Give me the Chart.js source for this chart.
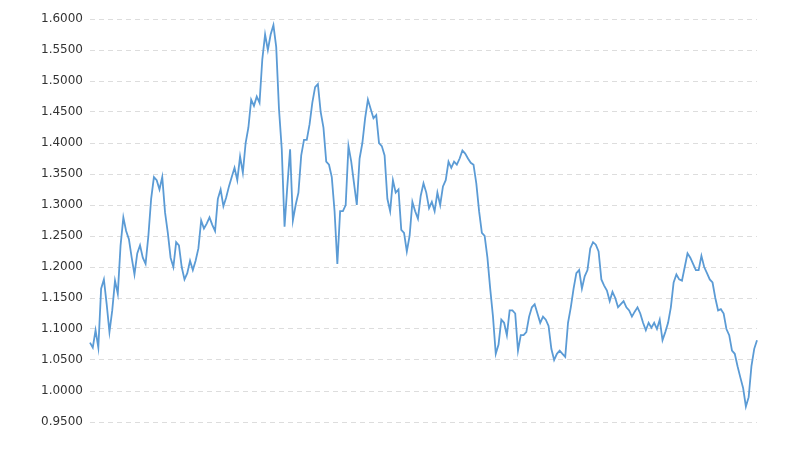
<!DOCTYPE html>
<html>
<head>
<meta charset="utf-8">
<script src="https://cdn.jsdelivr.net/npm/chart.js@4/dist/chart.umd.min.js"></script>
<style>
  html, body { margin: 0; padding: 0; background: #fff; }
  #wrap { width: 800px; height: 450px; }
</style>
</head>
<body>
<div id="wrap"><canvas id="chart"></canvas></div>
<script>
// monthly, Jan 2003 .. Jan 2023
const startYear = 2003;
const rates = [
  1.078, 1.070, 1.098, 1.070, 1.165, 1.180, 1.140, 1.095, 1.130, 1.178, 1.157, 1.235,
  1.280, 1.258, 1.245, 1.215, 1.188, 1.222, 1.235, 1.215, 1.205, 1.250, 1.310, 1.345,
  1.340, 1.325, 1.345, 1.288, 1.255, 1.215, 1.200, 1.240, 1.235, 1.200, 1.180, 1.190,
  1.210, 1.195, 1.210, 1.230, 1.275, 1.262, 1.270, 1.280, 1.268, 1.258, 1.310, 1.325,
  1.298, 1.312, 1.330, 1.345, 1.360, 1.340, 1.378, 1.352, 1.400, 1.425, 1.470, 1.460,
  1.475, 1.465, 1.535, 1.575, 1.550, 1.575, 1.590, 1.555, 1.455, 1.390, 1.265, 1.330,
  1.390, 1.275, 1.300, 1.320, 1.380, 1.405, 1.405, 1.430, 1.465, 1.490, 1.495, 1.450,
  1.425, 1.370, 1.365, 1.345, 1.290, 1.205, 1.290, 1.290, 1.300, 1.395, 1.370, 1.335,
  1.300, 1.375, 1.400, 1.440, 1.470, 1.455, 1.440, 1.445, 1.400, 1.395, 1.380, 1.310,
  1.290, 1.340, 1.320, 1.325, 1.260, 1.255, 1.225, 1.250, 1.305, 1.290, 1.278, 1.315,
  1.335, 1.320, 1.295, 1.305, 1.290, 1.320, 1.300, 1.330, 1.340, 1.370, 1.360, 1.370,
  1.365, 1.375, 1.388, 1.383, 1.375, 1.368, 1.365, 1.335, 1.290, 1.255, 1.250, 1.215,
  1.165, 1.120, 1.060, 1.075, 1.115, 1.110, 1.090, 1.130, 1.130, 1.125, 1.065, 1.090,
  1.090, 1.095, 1.120, 1.135, 1.140, 1.125, 1.110, 1.120, 1.115, 1.105, 1.068, 1.050,
  1.060, 1.065, 1.060, 1.055, 1.110, 1.135, 1.165, 1.190, 1.195, 1.165, 1.185, 1.195,
  1.230, 1.240, 1.236, 1.225, 1.180, 1.170, 1.162, 1.145, 1.160, 1.150, 1.135, 1.140,
  1.145, 1.135, 1.130, 1.120, 1.128, 1.135, 1.125, 1.110, 1.098, 1.110, 1.102, 1.110,
  1.100, 1.115, 1.082, 1.095, 1.110, 1.135, 1.175, 1.188, 1.180, 1.178, 1.200, 1.222,
  1.215, 1.205, 1.195, 1.195, 1.218, 1.200, 1.190, 1.180, 1.175, 1.150, 1.130, 1.132,
  1.125, 1.100, 1.090, 1.065, 1.060, 1.040, 1.022, 1.005, 0.975, 0.990, 1.040, 1.068,
  1.082
];
const months = rates.map((v, i) => {
  const y = startYear + Math.floor(i / 12);
  const m = (i % 12) + 1;
  return y + '-' + String(m).padStart(2, '0');
});
const yMin = 0.95;
const yMax = 1.6;
const yStep = 0.05;

const ctx = document.getElementById('chart').getContext('2d');
new Chart(ctx, {
  type: 'line',
  data: {
    labels: months,
    datasets: [{
      data: rates,
      borderColor: '#5b9bd5',
      borderWidth: 1.8,
      pointRadius: 0,
      tension: 0,
      fill: false
    }]
  },
  options: {
    responsive: true,
    maintainAspectRatio: false,
    animation: false,
    layout: { padding: { top: 19, right: 43, bottom: 28, left: 0 } },
    plugins: {
      legend: { display: false },
      tooltip: { enabled: false }
    },
    scales: {
      x: { display: false },
      y: {
        min: yMin,
        max: yMax,
        afterFit: (scale) => { scale.width = 90; },
        ticks: {
          stepSize: yStep,
          padding: 7,
          color: '#333',
          font: { family: 'DejaVu Sans', size: 12 },
          callback: (v) => v.toFixed(4)
        },
        grid: { color: '#dddddd', drawTicks: false },
        border: { display: false, dash: [5, 4] }
      }
    }
  }
});
</script>
</body>
</html>
